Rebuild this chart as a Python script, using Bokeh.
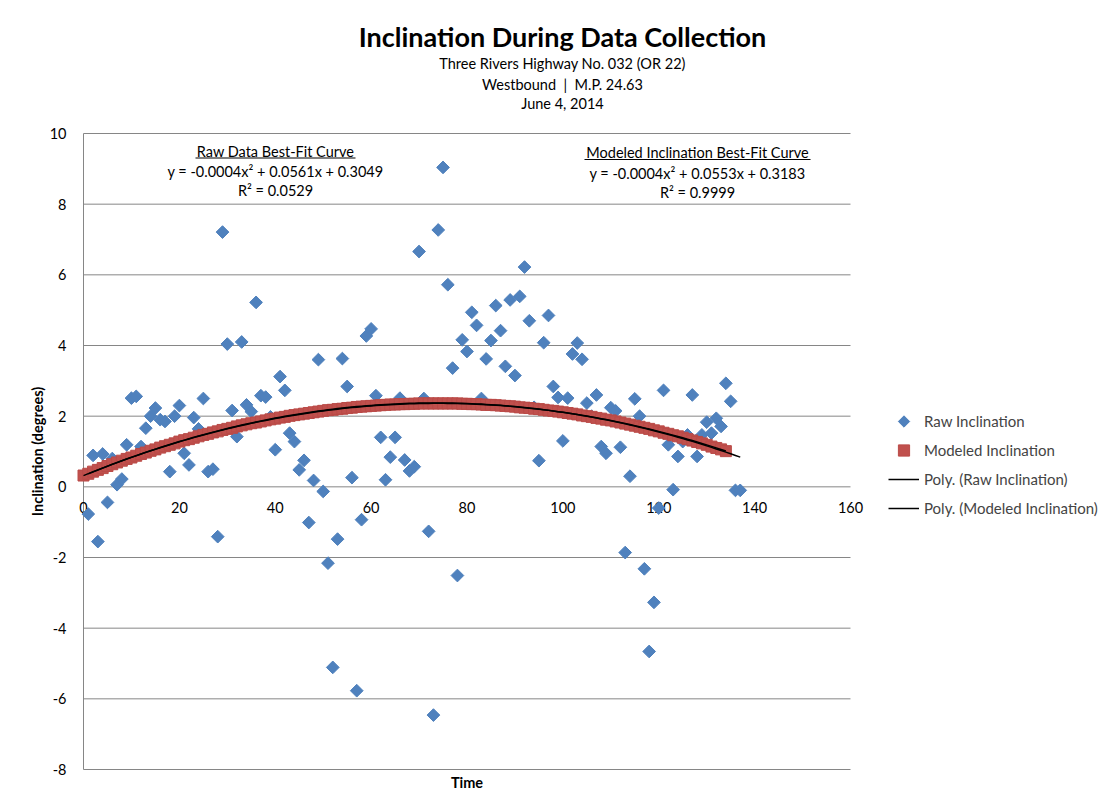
import numpy as np
from bokeh.plotting import figure
from bokeh.models import Label, Legend, LegendItem, BoxAnnotation, Range1d
from bokeh.core.properties import value
from bokeh.embed import file_html
from bokeh.resources import INLINE

# ---------------- data ----------------
raw_x = list(range(1, 138))
raw_y = [
    -0.77, 0.89, -1.55, 0.93, -0.44, 0.80, 0.06, 0.22, 1.19, 2.51,   # 1-10
    2.56, 1.14, 1.66, 2.00, 2.23, 1.90, 1.85, 0.43, 2.00, 2.30,      # 11-20
    0.95, 0.62, 1.96, 1.64, 2.50, 0.43, 0.50, -1.41, 7.21, 4.04,     # 21-30
    2.16, 1.42, 4.10, 2.32, 2.13, 5.22, 2.58, 2.54, 1.98, 1.05,      # 31-40
    3.12, 2.73, 1.52, 1.28, 0.48, 0.75, -1.01, 0.18, 3.60, -0.13,    # 41-50
    -2.16, -5.11, -1.48, 3.63, 2.84, 0.26, -5.77, -0.93, 4.27, 4.47, # 51-60
    2.58, 1.40, 0.20, 0.84, 1.40, 2.51, 0.76, 0.45, 0.57, 6.66,      # 61-70
    2.50, -1.26, -6.46, 7.27, 9.04, 5.72, 3.36, -2.51, 4.16, 3.83,   # 71-80
    4.94, 4.57, 2.50, 3.62, 4.14, 5.13, 4.42, 3.41, 5.29, 3.15,      # 81-90
    5.39, 6.22, 4.70, 2.25, 0.74, 4.08, 4.85, 2.84, 2.53, 1.30,      # 91-100
    2.51, 3.76, 4.07, 3.61, 2.37, 2.00, 2.60, 1.14, 0.95, 2.24,      # 101-110
    2.15, 1.12, -1.86, 0.30, 2.49, 2.00, -2.32, -4.66, -3.27, -0.60, # 111-120
    2.73, 1.19, -0.08, 0.86, 1.28, 1.47, 2.60, 0.86, 1.47, 1.83,     # 121-130
    1.52, 1.94, 1.71, 2.93, 2.42, -0.10, -0.10,                      # 131-137
]

model_x = list(range(0, 135))
model_y = [
    0.32, 0.37, 0.43, 0.48, 0.53, 0.59, 0.64, 0.69, 0.74, 0.79,
    0.83, 0.88, 0.93, 0.97, 1.02, 1.06, 1.11, 1.15, 1.19, 1.23,
    1.28, 1.32, 1.35, 1.39, 1.43, 1.47, 1.50, 1.54, 1.57, 1.61,
    1.64, 1.67, 1.71, 1.74, 1.77, 1.80, 1.82, 1.85, 1.88, 1.91,
    1.93, 1.96, 1.98, 2.01, 2.03, 2.05, 2.07, 2.09, 2.11, 2.13,
    2.15, 2.17, 2.18, 2.20, 2.21, 2.23, 2.24, 2.26, 2.27, 2.28,
    2.29, 2.30, 2.31, 2.32, 2.33, 2.33, 2.34, 2.34, 2.35, 2.35,
    2.36, 2.36, 2.36, 2.36, 2.36, 2.36, 2.36, 2.36, 2.36, 2.35,
    2.35, 2.34, 2.34, 2.33, 2.32, 2.32, 2.31, 2.30, 2.29, 2.28,
    2.27, 2.25, 2.24, 2.23, 2.21, 2.20, 2.18, 2.16, 2.15, 2.13,
    2.11, 2.09, 2.07, 2.05, 2.02, 2.00, 1.98, 1.95, 1.93, 1.90,
    1.88, 1.85, 1.82, 1.79, 1.76, 1.73, 1.70, 1.67, 1.64, 1.60,
    1.57, 1.53, 1.50, 1.46, 1.43, 1.39, 1.35, 1.31, 1.27, 1.23,
    1.19, 1.14, 1.10, 1.06, 1.01,
]

x_ticks = [0, 20, 40, 60, 80, 100, 120, 140, 160]
y_ticks = [-8, -6, -4, -2, 0, 2, 4, 6, 8, 10]

title_lines = ["Inclination During Data Collection",
               "Three Rivers Highway No. 032 (OR 22)",
               "Westbound \u00a0|\u00a0 M.P. 24.63",
               "June 4, 2014"]
raw_fit_text = ["Raw Data Best-Fit Curve",
                "y = -0.0004x\u00b2 + 0.0561x + 0.3049",
                "R\u00b2 = 0.0529"]
model_fit_text = ["Modeled Inclination Best-Fit Curve",
                  "y = -0.0004x\u00b2 + 0.0553x + 0.3183",
                  "R\u00b2 = 0.9999"]
legend_labels = ["Raw Inclination", "Modeled Inclination",
                 "Poly. (Raw Inclination)", "Poly. (Modeled Inclination)"]
x_title = "Time"
y_title = "Inclination (degrees)"

# polynomial trendlines (order 2), as in the spreadsheet
raw_coef = np.polyfit(raw_x, raw_y, 2)
model_coef = np.polyfit(model_x, model_y, 2)
raw_trend = np.polyval(raw_coef, raw_x)
model_trend = np.polyval(model_coef, model_x)

# ---------------- layout (pixels) ----------------
W, H = 1109, 810
PX_L, PX_R, PX_T, PX_B = 83, 850, 133, 769          # plot area in pixels
XMIN, XMAX = x_ticks[0], x_ticks[-1]
YMIN, YMAX = y_ticks[0], y_ticks[-1]
sx = (PX_R - PX_L) / (XMAX - XMIN)
sy = (PX_B - PX_T) / (YMAX - YMIN)


def dx(px):
    return XMIN + (px - PX_L) / sx


def dy(py):
    return YMAX - (py - PX_T) / sy


FONT = "Lato"
GRID = "#868686"
BLUE = "#4F81BD"
RED = "#C0504D"
FS = "14.5px"
FS_LEG = "15px"

p = figure(width=W, height=H,
           x_range=Range1d(dx(0), dx(W)), y_range=Range1d(dy(H), dy(0)),
           x_axis_type=None, y_axis_type=None,
           output_backend="svg", toolbar_location=None, min_border=0)
p.outline_line_color = None
p.grid.visible = False
p.background_fill_color = "white"
p.border_fill_color = "white"

# gridlines + axis lines
p.segment(x0=XMIN, x1=XMAX, y0=y_ticks, y1=y_ticks, line_color=GRID, line_width=1)
p.segment(x0=XMIN, x1=XMIN, y0=YMIN, y1=YMAX, line_color=GRID, line_width=1)

# tick labels
p.text(x=[XMIN] * len(y_ticks), y=y_ticks, text=[str(v) for v in y_ticks],
       x_offset=-17, text_align="right", text_baseline="middle",
       text_font=value(FONT), text_font_size=FS, text_color="black")
p.text(x=x_ticks, y=[0] * len(x_ticks), text=[str(v) for v in x_ticks],
       y_offset=21, text_align="center", text_baseline="middle",
       text_font=value(FONT), text_font_size=FS, text_color="black")

# data
r_raw = p.scatter(raw_x, raw_y, marker="square", angle=np.pi / 4, size=9,
                  fill_color=BLUE, line_color=BLUE)
r_mod = p.scatter(model_x, model_y, marker="square", size=11,
                  fill_color=RED, line_color="#BA4A47")
r_rt = p.line(raw_x, raw_trend, line_color="black", line_width=1.5)
r_mt = p.line(model_x, model_trend, line_color="black", line_width=1.5)

# legend (Bokeh legend swatches ignore marker angle, so the diamond swatch
# for the raw series is drawn separately at the legend row position)
LEG_L, LEG_ROW_H, LEG_SP, LEG_GW = 888, 28, 1, 31
LEG_LAST_CY = 508
leg_bottom = LEG_LAST_CY + LEG_ROW_H / 2
leg_first_cy = leg_bottom - 4 * LEG_ROW_H - 3 * LEG_SP + LEG_ROW_H / 2
r_ghost = p.scatter(x=[], y=[], marker="square", fill_alpha=0, line_alpha=0)
p.scatter(x=[dx(LEG_L + LEG_GW / 2)], y=[dy(leg_first_cy)], marker="square",
          angle=np.pi / 4, size=8, fill_color=BLUE, line_color=BLUE)

legend = Legend(items=[LegendItem(label=legend_labels[0], renderers=[r_ghost]),
                       LegendItem(label=legend_labels[1], renderers=[r_mod]),
                       LegendItem(label=legend_labels[2], renderers=[r_rt]),
                       LegendItem(label=legend_labels[3], renderers=[r_mt])],
                location=(LEG_L, H - leg_bottom), glyph_width=LEG_GW,
                glyph_height=LEG_ROW_H, label_height=20, spacing=LEG_SP,
                padding=0, margin=0, label_standoff=5, border_line_color=None,
                background_fill_alpha=0,
                label_text_font=FONT, label_text_font_size=FS_LEG)
p.add_layout(legend)

# title block
title_py = [36, 63, 84, 103]
for i, t in enumerate(title_lines):
    p.add_layout(Label(x=dx(562), y=dy(title_py[i]), text=t, text_align="center",
                       text_baseline="middle", text_font=FONT,
                       text_font_size="27px" if i == 0 else FS,
                       text_font_style="bold" if i == 0 else "normal",
                       text_color="black"))

# trendline equation labels
for cx, rows, lines in ((275, [150.5, 171, 190], raw_fit_text),
                        (697, [152, 172.5, 191.5], model_fit_text)):
    for i, t in enumerate(lines):
        p.add_layout(Label(x=dx(cx), y=dy(rows[i]), text=t, text_align="center",
                           text_baseline="middle", text_font=FONT,
                           text_font_size=FS, text_color="black"))
# underlines of the headings
for l, r, py in ((195, 355, 157.5), (584, 810, 159)):
    p.add_layout(BoxAnnotation(left=dx(l), right=dx(r), bottom=dy(py + 0.5),
                               top=dy(py - 0.5), fill_color="black", fill_alpha=1,
                               line_color=None))

# axis titles
p.add_layout(Label(x=(XMIN + XMAX) / 2, y=YMIN, y_offset=-13, text=x_title,
                   text_align="center", text_baseline="middle", text_font=FONT,
                   text_font_size=FS, text_font_style="bold", text_color="black"))
p.add_layout(Label(x=XMIN, y=(YMIN + YMAX) / 2, x_offset=-46, text=y_title,
                   angle=np.pi / 2, text_align="center", text_baseline="middle",
                   text_font=FONT, text_font_size=FS, text_font_style="bold",
                   text_color="black"))

open("out.html", "w").write(file_html(p, INLINE))
